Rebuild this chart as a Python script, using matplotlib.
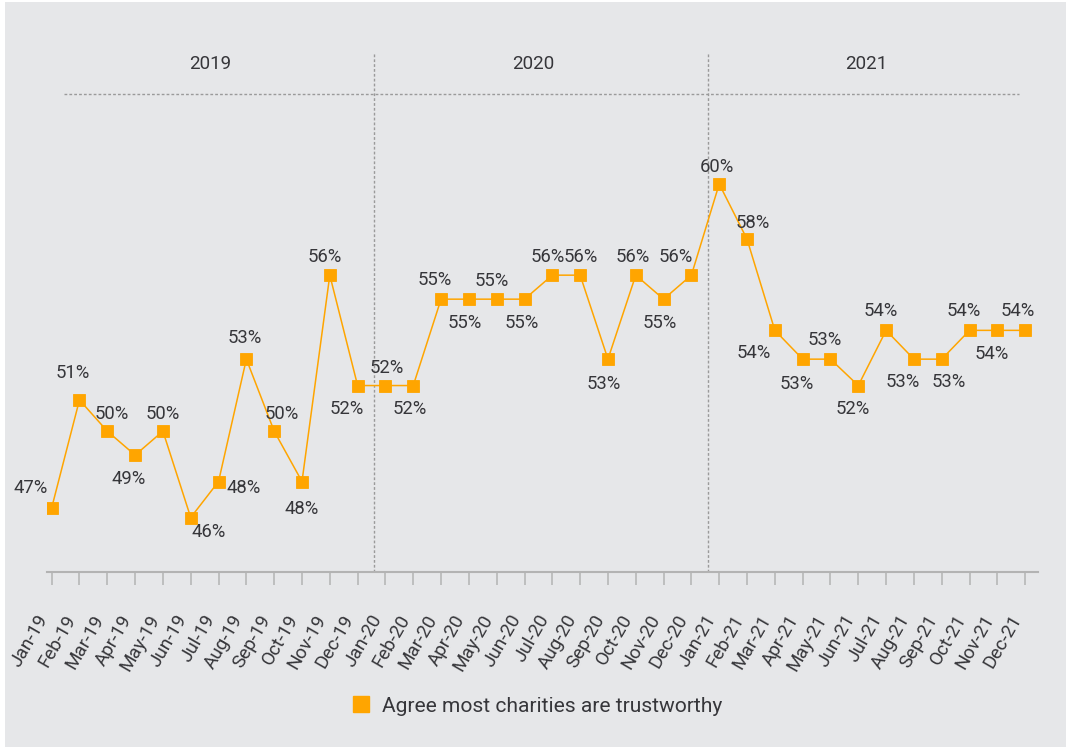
import matplotlib.pyplot as plt
from matplotlib.lines import Line2D
from matplotlib.patches import Rectangle

months = ['Jan-19', 'Feb-19', 'Mar-19', 'Apr-19', 'May-19', 'Jun-19',
          'Jul-19', 'Aug-19', 'Sep-19', 'Oct-19', 'Nov-19', 'Dec-19',
          'Jan-20', 'Feb-20', 'Mar-20', 'Apr-20', 'May-20', 'Jun-20',
          'Jul-20', 'Aug-20', 'Sep-20', 'Oct-20', 'Nov-20', 'Dec-20',
          'Jan-21', 'Feb-21', 'Mar-21', 'Apr-21', 'May-21', 'Jun-21',
          'Jul-21', 'Aug-21', 'Sep-21', 'Oct-21', 'Nov-21', 'Dec-21']

# plotted values and the printed labels
trust = [46.7, 51.2, 49.9, 48.9, 49.9, 46.3, 47.8, 52.9, 49.9, 47.8, 56.4, 51.8,
         51.8, 51.8, 55.4, 55.4, 55.4, 55.4, 56.4, 56.4, 52.9, 56.4, 55.4, 56.4,
         60.2, 57.9, 54.1, 52.9, 52.9, 51.8, 54.1, 52.9, 52.9, 54.1, 54.1, 54.1]
trust_labels = [47, 51, 50, 49, 50, 46, 48, 53, 50, 48, 56, 52,
                52, 52, 55, 55, 55, 55, 56, 56, 53, 56, 55, 56,
                60, 58, 54, 53, 53, 52, 54, 53, 53, 54, 54, 54]

years = ['2019', '2020', '2021']
series_name = 'Agree most charities are trustworthy'

# label offsets in pixels (dx right, dy down) from each marker
offsets = [(-21, -21), (-7, -28), (4, -19), (-6, 22), (0, -19), (18, 13),
           (25, 5), (-2, -23), (8, -19), (0, 26), (-5, -20), (-11, 22),
           (1, -19), (-4, 22), (-6, -21), (-4, 22), (-5, -20), (-3, 22),
           (-5, -20), (1, -20), (-4, 23), (-3, -20), (-4, 22), (-16, -20),
           (-2, -18), (6, -18), (-21, 21), (-6, 23), (-6, -21), (-6, 22),
           (-5, -21), (-11, 21), (7, 21), (-6, -21), (-6, 22), (-7, -21)]

ORANGE = '#FFA500'
TEXT = '#36363a'
GRID = '#9a9a9a'
AXIS = '#b3b3b3'
FONT = 'Roboto'

fig = plt.figure(figsize=(10.66, 7.49), dpi=100, facecolor='white')
fig.add_artist(Rectangle((5 / 1066, 2 / 749), 1061 / 1066, 745 / 749,
                         transform=fig.transFigure, facecolor='#e6e7e9',
                         edgecolor='none', zorder=-5))

ax = fig.add_axes([47.2 / 1066, 1 - 572 / 749, 990.5 / 1066, 520 / 749])
ax.set_facecolor('none')

x = list(range(len(months)))
ax.plot(x, trust, color=ORANGE, lw=1.1, marker='s', ms=8, mew=0.6,
        mec=ORANGE, mfc=ORANGE, zorder=3)

for i, (v, lab) in enumerate(zip(trust, trust_labels)):
    dx, dy = offsets[i]
    ax.annotate(f'{lab}%', (i, v), xytext=(dx, -(dy + 6.5)),
                textcoords='offset pixels', ha='center', va='baseline',
                fontsize=13.3, color=TEXT, family=FONT)

ax.set_xlim(-0.16, 35.45)
ax.set_ylim(44.03, 65.7)

# year separators and header
for sep in [11.6, 23.6]:
    ax.axvline(sep, color=GRID, lw=1, ls=(0, (2, 1.5)), zorder=1)
ax.plot([0.45, 34.78], [63.93, 63.93], color=GRID, lw=1, ls=(0, (2, 1.5)), zorder=1)
for yr, xc in zip(years, [5.7, 17.3, 29.3]):
    ax.text(xc, 65.2, yr, ha='center', va='center', fontsize=13.5,
            color=TEXT, family=FONT)

for side in ['top', 'left', 'right']:
    ax.spines[side].set_visible(False)
ax.spines['bottom'].set_color(AXIS)
ax.spines['bottom'].set_linewidth(1.5)
ax.set_yticks([])
ax.set_xticks(x)
ax.set_xticklabels(months, rotation=60, ha='right', fontsize=13.5,
                   color=TEXT, family=FONT)
ax.tick_params(axis='x', direction='out', length=9.5, width=1.1,
               color=AXIS, pad=19)

handle = Line2D([], [], marker='s', ls='none', ms=11.5, color=ORANGE)
fig.legend([handle], [series_name], loc='center',
           bbox_to_anchor=(536 / 1066, 1 - 706 / 749), frameon=False,
           handlelength=1.0, handletextpad=0.5,
           prop={'family': FONT, 'size': 15.1},
           labelcolor=TEXT)

fig.savefig('out.png', dpi=100, facecolor='white')
